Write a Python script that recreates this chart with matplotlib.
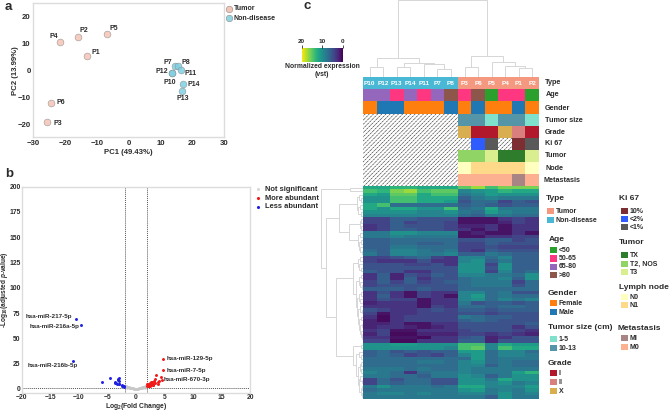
import matplotlib
matplotlib.use("Agg")
import matplotlib.pyplot as plt
import numpy as np
from matplotlib.cm import ScalarMappable
from matplotlib.colors import Normalize
from matplotlib.patches import Rectangle

plt.rcParams['font.family'] = ['Liberation Sans', 'DejaVu Sans']
plt.rcParams['mathtext.fontset'] = 'custom'
plt.rcParams['mathtext.rm'] = 'Liberation Sans:bold'
plt.rcParams['mathtext.bf'] = 'Liberation Sans:bold'
plt.rcParams['mathtext.it'] = 'Liberation Sans:italic:bold'
plt.rcParams['hatch.linewidth'] = 0.4

# ---------- panel a ----------
pca_names = ['P1', 'P2', 'P3', 'P4', 'P5', 'P6', 'P7', 'P8', 'P10', 'P11', 'P12', 'P13', 'P14']
pca_x = [-13, -16, -25.7, -21.5, -6.9, -24.5, 14.5, 15.5, 13.5, 16.5, 13.5, 16.8, 17]
pca_y = [5.3, 12.6, -19.4, 10.5, 13.8, -12, 1.5, 1.7, -1, 0, -1, -7.7, -5]
pca_group = ['T', 'T', 'T', 'T', 'T', 'T', 'N', 'N', 'N', 'N', 'N', 'N', 'N']
pca_offset_px = [(8, 4), (6, 6), (11, -1), (-7, 6), (7, 5), (10, 0), (-7, 4), (8, 3),
                 (-2, -9), (9, -3), (-10, 2), (1, -7), (11, -1)]

# ---------- panel b ----------
gene_blue_x = [-10.5, -9.6, -11, -6, -4.5, -3.7, -3.5, -3.3, -3.1, -3, -2.9, -3.2, -3, -2.9, -3.6,
               -2.4, -2.3, -2.2, -2.1, -2.4, -2.1]
gene_blue_y = [69, 63, 28, 7, 11, 7, 6, 5, 9, 11, 8, 10, 5, 4.5, 5.5, 4, 3, 2.5, 3, 2.5, 2]
gene_red_x = [4.8, 4.8, 3.5, 4.3, 4.5, 3.3, 4, 3.8, 3.9, 3.3, 3.2, 3, 2.9, 2.8, 2.7, 2.6, 2.5, 2.5, 2.4,
              2.4, 2.3, 2.3, 2.2, 2.2, 2.1, 2.1, 2, 2, 2.6, 3]
gene_red_y = [30, 19, 14, 12, 9, 9.5, 7.5, 7, 4.5, 6, 7.5, 5, 4, 7, 6, 7, 5, 3.5, 6, 3, 5, 3, 4.5, 2.5,
              4, 3, 5, 2.5, 4, 3.5]
gene_grey_x = [-2, -1.9, -1.8, -1.7, -1.6, -1.5, -1.4, -1.3, -1.2, -1.1, -1, -0.9, -0.8, -0.7, -0.6, -0.5,
               -0.4, -0.3, -0.2, -0.1, 0, 0.1, 0.2, 0.3, 0.4, 0.5, 0.6, 0.7, 0.8, 0.9, 1, 1.1, 1.2, 1.3,
               1.4, 1.5, 1.6, 1.7, 1.8, 1.9, -1.5, -1, 1, 1.5, 1.8, -1.8]
gene_grey_y = [3, 3.2, 2.7, 2.6, 2.4, 2.1, 2, 1.8, 1.6, 1.4, 1.2, 1.1, 0.9, 0.7, 0.6, 0.5, 0.4, 0.3, 0.2,
               0.2, 0.1, 0.2, 0.2, 0.3, 0.4, 0.5, 0.6, 0.8, 0.9, 1.1, 1.2, 1.5, 1.7, 1.9, 2.1, 2.3, 2.5,
               2.8, 3, 3.4, 1.4, 0.8, 0.7, 1.4, 2, 1.9]
gene_names = ['hsa-miR-217-5p', 'hsa-miR-216a-5p', 'hsa-miR-216b-5p', 'hsa-miR-129-5p', 'hsa-miR-7-5p', 'hsa-miR-670-3p']
gene_label_x = [-15.2, -14.3, -14.55, 9.5, 8.9, 9]
gene_label_y = [71.8, 62, 23, 30, 18.5, 9.5]

# ---------- panel c ----------
samples = ['P10', 'P12', 'P13', 'P14', 'P11', 'P7', 'P8', 'P3', 'P6', 'P5', 'P4', 'P1', 'P2']
annot_rows = ['Type', 'Age', 'Gender', 'Tumor size', 'Grade', 'Ki 67', 'Tumor', 'Node', 'Metastasis']
annot_type = ['Non-disease'] * 7 + ['Tumor'] * 6
annot_age = ['65-80', '65-80', '50-65', '65-80', '50-65', '65-80', '>80', '50-65', '>80', '<50', '50-65', '50-65', '<50']
annot_gender = ['Female', 'Male', 'Male', 'Female', 'Female', 'Female', 'Male', 'Female', 'Male', 'Female', 'Female', 'Male', 'Female']
annot_size = [None] * 7 + ['10-13', '10-13', '1-5', '10-13', '10-13', '1-5']
annot_grade = [None] * 7 + ['X', 'I', 'I', 'X', 'II', 'I']
annot_ki = [None] * 7 + [None, '<2%', '<1%', None, '10%', '<1%']
annot_tumor = [None] * 7 + ['T2, NOS', 'T2, NOS', 'T3', 'TX', 'TX', 'T3']
annot_node = [None] * 7 + ['N0', 'N1', 'N1', 'N1', 'N1', 'N0']
annot_met = [None] * 7 + ['M0', 'M0', 'M0', 'M0', 'MI', 'M0']

type_colors = {'Tumor': '#F4997F', 'Non-disease': '#48B8D5'}
age_colors = {'<50': '#2ca02c', '50-65': '#ff3680', '65-80': '#9467bd', '>80': '#8c564b'}
gender_colors = {'Female': '#ff7f0e', 'Male': '#1f77b4'}
size_colors = {'1-5': '#7fe0cc', '10-13': '#5595a8'}
grade_colors = {'I': '#b2182b', 'II': '#d9807f', 'X': '#d8ae50'}
ki_colors = {'10%': '#7d2e33', '<2%': '#2f5cff', '<1%': '#595959'}
tumor_colors = {'TX': '#2d7d2d', 'T2, NOS': '#90d465', 'T3': '#d8ee8f'}
node_colors = {'N0': '#ffffbf', 'N1': '#fed98a'}
met_colors = {'MI': '#a88484', 'M0': '#fdb08f'}

expression = [
    [12, 12, 13, 13, 12, 12, 12, 15, 17, 14, 16, 16, 16],
    [14, 13, 16, 17, 14, 15, 15, 9, 10, 11, 13, 12, 12],
    [12, 11, 15, 15, 12, 14, 14, 8, 9, 11, 10, 10, 10],
    [10, 10, 14, 14, 12, 12, 12, 6, 8, 9, 8, 8, 8],
    [10, 10, 14, 14, 12, 12, 11, 5, 7, 7, 4, 6, 5],
    [12, 14, 7, 7, 7, 7, 7, 6, 7, 6, 5, 6, 6],
    [12, 10, 12, 12, 10, 10, 14, 7, 8, 12, 8, 8, 8],
    [10, 10, 10, 10, 9, 9, 10, 8, 7, 11, 9, 8, 8],
    [9, 9, 9, 9, 9, 9, 9, 7, 6, 8, 8, 7, 7],
    [4, 4, 6, 6, 5, 5, 5, 1, 1, 1, 3, 4, 3],
    [4, 4, 6, 4, 5, 5, 4, 1, 1, 1, 2, 4, 3],
    [3, 4, 6, 5, 5, 5, 4, 2, 2, 3, 1, 3, 3],
    [3, 4, 6, 6, 5, 5, 4, 3, 1, 3, 1, 3, 3],
    [8, 8, 10, 10, 9, 9, 9, 1, 2, 1, 1, 3, 1],
    [8, 8, 9, 8, 8, 8, 8, 1, 1, 3, 3, 4, 4],
    [6, 6, 7, 7, 7, 7, 7, 5, 5, 6, 6, 4, 5],
    [6, 6, 7, 7, 6, 6, 7, 4, 4, 6, 5, 5, 5],
    [6, 6, 8, 8, 7, 7, 7, 4, 4, 5, 4, 4, 4],
    [7, 6, 9, 9, 8, 7, 8, 4, 3, 6, 5, 5, 5],
    [8, 6, 9, 9, 8, 8, 9, 6, 6, 8, 7, 6, 6],
    [4, 4, 5, 6, 7, 4, 3, 9, 9, 7, 9, 6, 6],
    [4, 3, 3, 3, 5, 3, 3, 9, 10, 6, 8, 6, 6],
    [5, 5, 5, 4, 4, 5, 3, 10, 10, 4, 10, 6, 6],
    [5, 5, 5, 5, 5, 5, 5, 10, 10, 5, 10, 6, 6],
    [6, 5, 5, 3, 3, 5, 5, 10, 10, 4, 9, 6, 7],
    [3, 6, 2, 5, 4, 6, 5, 9, 9, 8, 8, 7, 10],
    [3, 6, 2, 6, 3, 5, 5, 7, 8, 8, 9, 6, 10],
    [4, 6, 4, 6, 4, 5, 6, 7, 8, 8, 8, 4, 7],
    [4, 5, 5, 5, 5, 5, 5, 7, 8, 8, 8, 5, 7],
    [6, 6, 6, 5, 6, 5, 5, 7, 7, 7, 7, 7, 7],
    [3, 5, 3, 1, 4, 3, 3, 9, 9, 7, 8, 5, 5],
    [3, 6, 3, 1, 4, 3, 1, 9, 11, 7, 8, 7, 7],
    [3, 5, 4, 4, 1, 3, 3, 9, 10, 7, 9, 8, 9],
    [2, 3, 3, 3, 1, 3, 3, 8, 5, 6, 6, 5, 6],
    [3, 3, 3, 3, 1, 4, 3, 7, 7, 6, 7, 7, 6],
    [5, 4, 3, 3, 4, 5, 4, 6, 6, 5, 6, 6, 6],
    [4, 1, 3, 3, 4, 4, 4, 5, 5, 4, 5, 5, 5],
    [3, 0.5, 3, 4, 4, 4, 4, 8, 7, 6, 6, 5, 5],
    [2, 0.5, 3, 4, 4, 4, 4, 6, 7, 6, 5, 5, 5],
    [2, 2, 3, 1, 1, 3, 3, 5, 5, 5, 5, 5, 6],
    [2, 3, 3, 2, 1, 2, 3, 5, 5, 5, 5, 3, 5],
    [3, 4, 1, 1, 3, 3, 3, 4, 5, 5, 5, 4, 3],
    [2, 4, 0.5, 0.5, 2, 2, 2, 4, 4, 3, 4, 3, 2],
    [3, 3, 1, 1, 0.5, 3, 3, 5, 6, 2, 3, 5, 5],
    [4, 4, 0.5, 0.5, 3, 3, 3, 6, 6, 2, 5, 5, 5],
    [10, 10, 11, 11, 10, 10, 10, 14, 14, 9, 12, 11, 11],
    [10, 10, 10, 10, 10, 10, 9, 14, 15, 9, 14, 12, 12],
    [6, 7, 5, 6, 5, 6, 6, 11, 11, 7, 9, 9, 7],
    [6, 7, 6, 4, 5, 4, 6, 9, 11, 7, 9, 9, 8],
    [7, 7, 7, 7, 7, 7, 7, 7, 11, 7, 8, 8, 8],
    [7, 7, 7, 7, 8, 8, 7, 9, 10, 7, 8, 7, 7],
    [7, 7, 7, 7, 7, 7, 7, 9, 9, 6, 8, 7, 7],
    [8, 8, 8, 7, 8, 7, 7, 9, 8, 8, 8, 8, 8],
    [9, 8, 7, 3, 7, 8, 8, 9, 8, 8, 8, 11, 13],
    [8, 8, 7, 7, 6, 8, 8, 10, 9, 6, 8, 10, 10],
    [4, 7, 5, 7, 7, 5, 5, 10, 10, 8, 12, 10, 10],
    [4, 7, 6, 7, 7, 5, 5, 10, 10, 9, 10, 8, 9],
    [8, 10, 8, 8, 8, 7, 8, 12, 12, 9, 9, 9, 11],
    [7, 8, 8, 8, 8, 8, 8, 10, 11, 8, 9, 8, 10],
    [8, 9, 9, 8, 9, 8, 8, 9, 9, 8, 10, 8, 9],
    [8, 8, 8, 8, 8, 8, 8, 8, 8, 6, 10, 8, 8],
]

# dendrograms: (merge height, left, right); leaves are sample / row indices
col_tree = (77,
            (19, (10, 0, 1), (14, (10, 2, 3), (13, 4, (8, 5, 6)))),
            (21, (10, 7, 8), (15, 9, (11, 10, (9, 11, 12)))))
row_tree = (42, (13, 0, 1),
            (37,
             (24, (6, (4, 2, (2, 3, 4)), (5, (3, 5, 6), (2, 7, 8))),
              (14, (3, (2, 9, 10), (2, 11, 12)),
               (5, (3, 13, 14), (4, (2, 15, 16), (3, 17, (1, 18, 19)))))),
             (27,
              (10, (5, (3, 20, 21), (4, 22, (2, 23, 24))),
               (7, (4, (2, 25, 26), (3, 27, (1, 28, 29))),
                (6, (4, (2, 30, 31), (3, 32, 33)),
                 (5, (3, 34, (1, 35, 36)),
                  (4, (2, 37, 38), (3, (1, 39, 40), (2, 41, (1, 42, (0.5, 43, 44)))))))),
               ),
              (10, (2, 45, 46),
               (7, (4, 47, (2, 48, 49)),
                (5, (3, (2, 50, 51), (2, 52, 53)),
                 (4, (3, 54, (1, 55, 56)), (2, (1, 57, 58), (1, 59, 60)))))))))

# ---------- layout ----------
W, H = 669, 411
fig = plt.figure(figsize=(W / 100, H / 100), dpi=100)
TXT = '#2b2b2b'


def axpx(left, top, right, bottom, **kw):
    return fig.add_axes([left / W, 1 - bottom / H, (right - left) / W, (bottom - top) / H], **kw)


def style_scatter_ax(ax, pad=2, size=5.6):
    for s in ax.spines.values():
        s.set_color('#dcdcdc')
        s.set_linewidth(1)
    ax.tick_params(length=0, labelsize=size, pad=pad, labelcolor=TXT)
    for t in ax.get_xticklabels() + ax.get_yticklabels():
        t.set_fontweight('bold')


# panel a
axa = axpx(33.3, 3.5, 224, 137.5)
for name, x, y, g, off in zip(pca_names, pca_x, pca_y, pca_group, pca_offset_px):
    c = '#f4c4b4' if g == 'T' else '#7fd0e2'
    axa.scatter([x], [y], s=24, color=c, edgecolor='#8a8a8a', linewidth=0.4,
                alpha=0.85, zorder=3)
    axa.annotate(name, (x, y), xytext=(off[0] * 0.72, off[1] * 0.72), textcoords='offset points',
                 ha='center', va='center', fontsize=5, fontweight='bold', color=TXT)
axa.set_xlim(-30, 30)
axa.set_ylim(-25, 25)
axa.set_xticks([-30, -20, -10, 0, 10, 20, 30])
axa.set_yticks([-20, -10, 0, 10, 20])
axa.set_xlabel('PC1 (49.43%)', fontsize=5.6, fontweight='bold', color=TXT, labelpad=1)
axa.set_ylabel('PC2 (13.99%)', fontsize=5.6, fontweight='bold', color=TXT, labelpad=-1)
style_scatter_ax(axa)

# panel b
axb = axpx(22, 186.7, 250, 393)
axb.scatter(gene_grey_x, gene_grey_y, s=4.5, color='#c8c8c8', alpha=0.7, linewidth=0, zorder=2)
axb.scatter(gene_red_x, gene_red_y, s=4.5, color='#f01818', linewidth=0, zorder=3)
axb.scatter(gene_blue_x, gene_blue_y, s=4.5, color='#1f1fe0', linewidth=0, zorder=3)
axb.axvline(-2, color='#555555', lw=0.7, ls=(0, (1, 1)), zorder=1)
axb.axvline(2, color='#555555', lw=0.7, ls=(0, (1, 1)), zorder=1)
axb.axhline(1.3, color='#555555', lw=0.7, ls=(0, (1, 1)), zorder=1)
for n, x, y in zip(gene_names, gene_label_x, gene_label_y):
    axb.text(x, y, n, ha='center', va='center', fontsize=4.5, fontweight='bold', color=TXT)
axb.set_xlim(-20, 20)
axb.set_ylim(-4, 200)
axb.set_xticks([-20, -15, -10, -5, 0, 5, 10, 15, 20])
axb.set_yticks([0, 25, 50, 75, 100, 125, 150, 175, 200])
axb.set_xlabel(r'Log$_{2}$(Fold Change)', fontsize=4.9, color=TXT, fontweight='bold', va='center')
axb.xaxis.set_label_coords(0.5, (393 - 406.8) / 206.3)
axb.set_ylabel(r'-Log$_{10}$(adjusted $p$-value)', fontsize=4.7, color=TXT, fontweight='bold', va='center')
axb.yaxis.set_label_coords((5 - 22) / 228, 0.5)
style_scatter_ax(axb, pad=1.0, size=4.9)

# panel c: heatmap
n_s = len(samples)
axh = axpx(363, 186, 539, 398.7)
axh.pcolormesh(np.array(expression, dtype=float), cmap='viridis', vmin=0, vmax=20,
               linewidth=0, rasterized=True)
axh.set_xlim(0, n_s)
axh.set_ylim(len(expression), 0)
axh.axis('off')

# panel c: annotation rows
axn = axpx(363, 77.3, 539, 186)
annot_tracks = [(annot_type, type_colors), (annot_age, age_colors), (annot_gender, gender_colors),
                (annot_size, size_colors), (annot_grade, grade_colors), (annot_ki, ki_colors),
                (annot_tumor, tumor_colors), (annot_node, node_colors), (annot_met, met_colors)]
for r, (vals, cmap) in enumerate(annot_tracks):
    for c, v in enumerate(vals):
        if v is None:
            axn.bar(c + 0.5, 1, bottom=r, width=1, facecolor='white', edgecolor='#222222',
                    hatch='////////', linewidth=0, zorder=1)
            axn.bar(c + 0.5, 1, bottom=r, width=1, facecolor='none', edgecolor='white',
                    hatch='-------', linewidth=0, zorder=2)
        else:
            axn.bar(c + 0.5, 1, bottom=r, width=1, color=cmap[v], linewidth=0, zorder=3)
for c, s in enumerate(samples):
    axn.text(c + 0.5, 0.52, s, ha='center', va='center', fontsize=4.6, color='white',
             fontweight='bold', zorder=4)
axn.set_xlim(0, n_s)
axn.set_ylim(len(annot_tracks), 0)
axn.axis('off')


def draw_tree(ax, node, horizontal):
    if not isinstance(node, tuple):
        return node + 0.5, 0
    h, a, b = node
    pa, ha = draw_tree(ax, a, horizontal)
    pb, hb = draw_tree(ax, b, horizontal)
    line = ([pa, pa, pb, pb], [ha, h, h, hb])
    if horizontal:
        ax.plot(line[0], line[1], color='#d6d6d6', lw=0.7, solid_joinstyle='miter')
    else:
        ax.plot(line[1], line[0], color='#d6d6d6', lw=0.7, solid_joinstyle='miter')
    return (pa + pb) / 2, h


axd = axpx(363, 0, 539, 77.3)
draw_tree(axd, col_tree, True)
axd.set_xlim(0, n_s)
axd.set_ylim(0, 77.3)
axd.axis('off')

axr = axpx(318, 186, 363, 398.7)
draw_tree(axr, row_tree, False)
axr.set_xlim(45, 0)
axr.set_ylim(len(expression), 0)
axr.axis('off')

# colour key
axc = axpx(301.7, 47.7, 342.7, 61.7)
cb = fig.colorbar(ScalarMappable(Normalize(0, 20), 'viridis'), cax=axc, orientation='horizontal')
axc.invert_xaxis()
cb.set_ticks([20, 10, 0])
cb.outline.set_visible(False)
axc.xaxis.set_ticks_position('top')
axc.tick_params(length=2.5, width=0.5, labelsize=4.6, pad=0.5, labelcolor=TXT)
for t in axc.get_xticklabels():
    t.set_fontweight('bold')

# overlay in pixel coordinates
ov = fig.add_axes([0, 0, 1, 1], zorder=10)
ov.set_xlim(0, W)
ov.set_ylim(H, 0)
ov.axis('off')
ov.patch.set_alpha(0)


def label(x, y, s, size=5.6, ha='left', weight='bold'):
    ov.text(x, y, s, fontsize=size, ha=ha, va='center', fontweight=weight, color=TXT)


label(5, 7, 'a', 9.5)
label(5, 174, 'b', 9.5)
label(303, 6, 'c', 9.5)
label(322, 66, 'Normalized expression', 4.9, ha='center')
label(322, 75, '(vst)', 4.9, ha='center')

# panel a legend
for y, s, c in [(9, 'Tumor', '#f4c4b4'), (18, 'Non-disease', '#93d6e3')]:
    ov.scatter([229], [y], s=22, color=c, edgecolor='#8a8a8a', linewidth=0.4)
    label(234, y, s, 5.1)

# panel b legend
for y, s, c in [(189, 'Not significant', '#d8d8d8'), (198, 'More abundant', '#f01818'), (206.5, 'Less abundant', '#1f1fe0')]:
    ov.scatter([257.7], [y], s=5, color=c, linewidth=0)
    label(265, y, s, 5.4)

# annotation row titles
for y, x, s in zip([83, 95, 108, 120, 132, 143, 155, 168, 180],
                   [545, 546, 545, 545, 545, 545, 545, 545, 544], annot_rows):
    label(x, y, s, 5.2)

# annotation legends: title position, entry rows, swatch left edge
legend_blocks = [
    ('Type', 546, 198, type_colors, ['Tumor', 'Non-disease'], [211, 220], 547),
    ('Age', 549, 239, age_colors, ['<50', '50-65', '65-80', '>80'], [250, 258.3, 266.7, 275], 550),
    ('Gender', 548, 293, gender_colors, ['Female', 'Male'], [303, 312], 550),
    ('Tumor size (cm)', 548, 327, size_colors, ['1-5', '10-13'], [339, 348], 550),
    ('Grade', 548, 363, grade_colors, ['I', 'II', 'X'], [373, 382, 391], 550),
    ('Ki 67', 619, 198, ki_colors, ['10%', '<2%', '<1%'], [211, 219, 227], 621),
    ('Tumor', 619, 242, tumor_colors, ['TX', 'T2, NOS', 'T3'], [255, 264, 272], 621),
    ('Lymph node', 619, 287, node_colors, ['N0', 'N1'], [297, 305], 621),
    ('Metastasis', 618, 328, met_colors, ['MI', 'M0'], [338, 347], 621),
]
for title, tx, ty, cmap, keys, ys, sx in legend_blocks:
    label(tx, ty, title, 6.0)
    for k, y in zip(keys, ys):
        ov.add_patch(Rectangle((sx, y - 3), 7, 6.2, facecolor=cmap[k], linewidth=0))
        label(sx + 8.5, y, k, 5.0)

fig.savefig('out.png', dpi=100)
